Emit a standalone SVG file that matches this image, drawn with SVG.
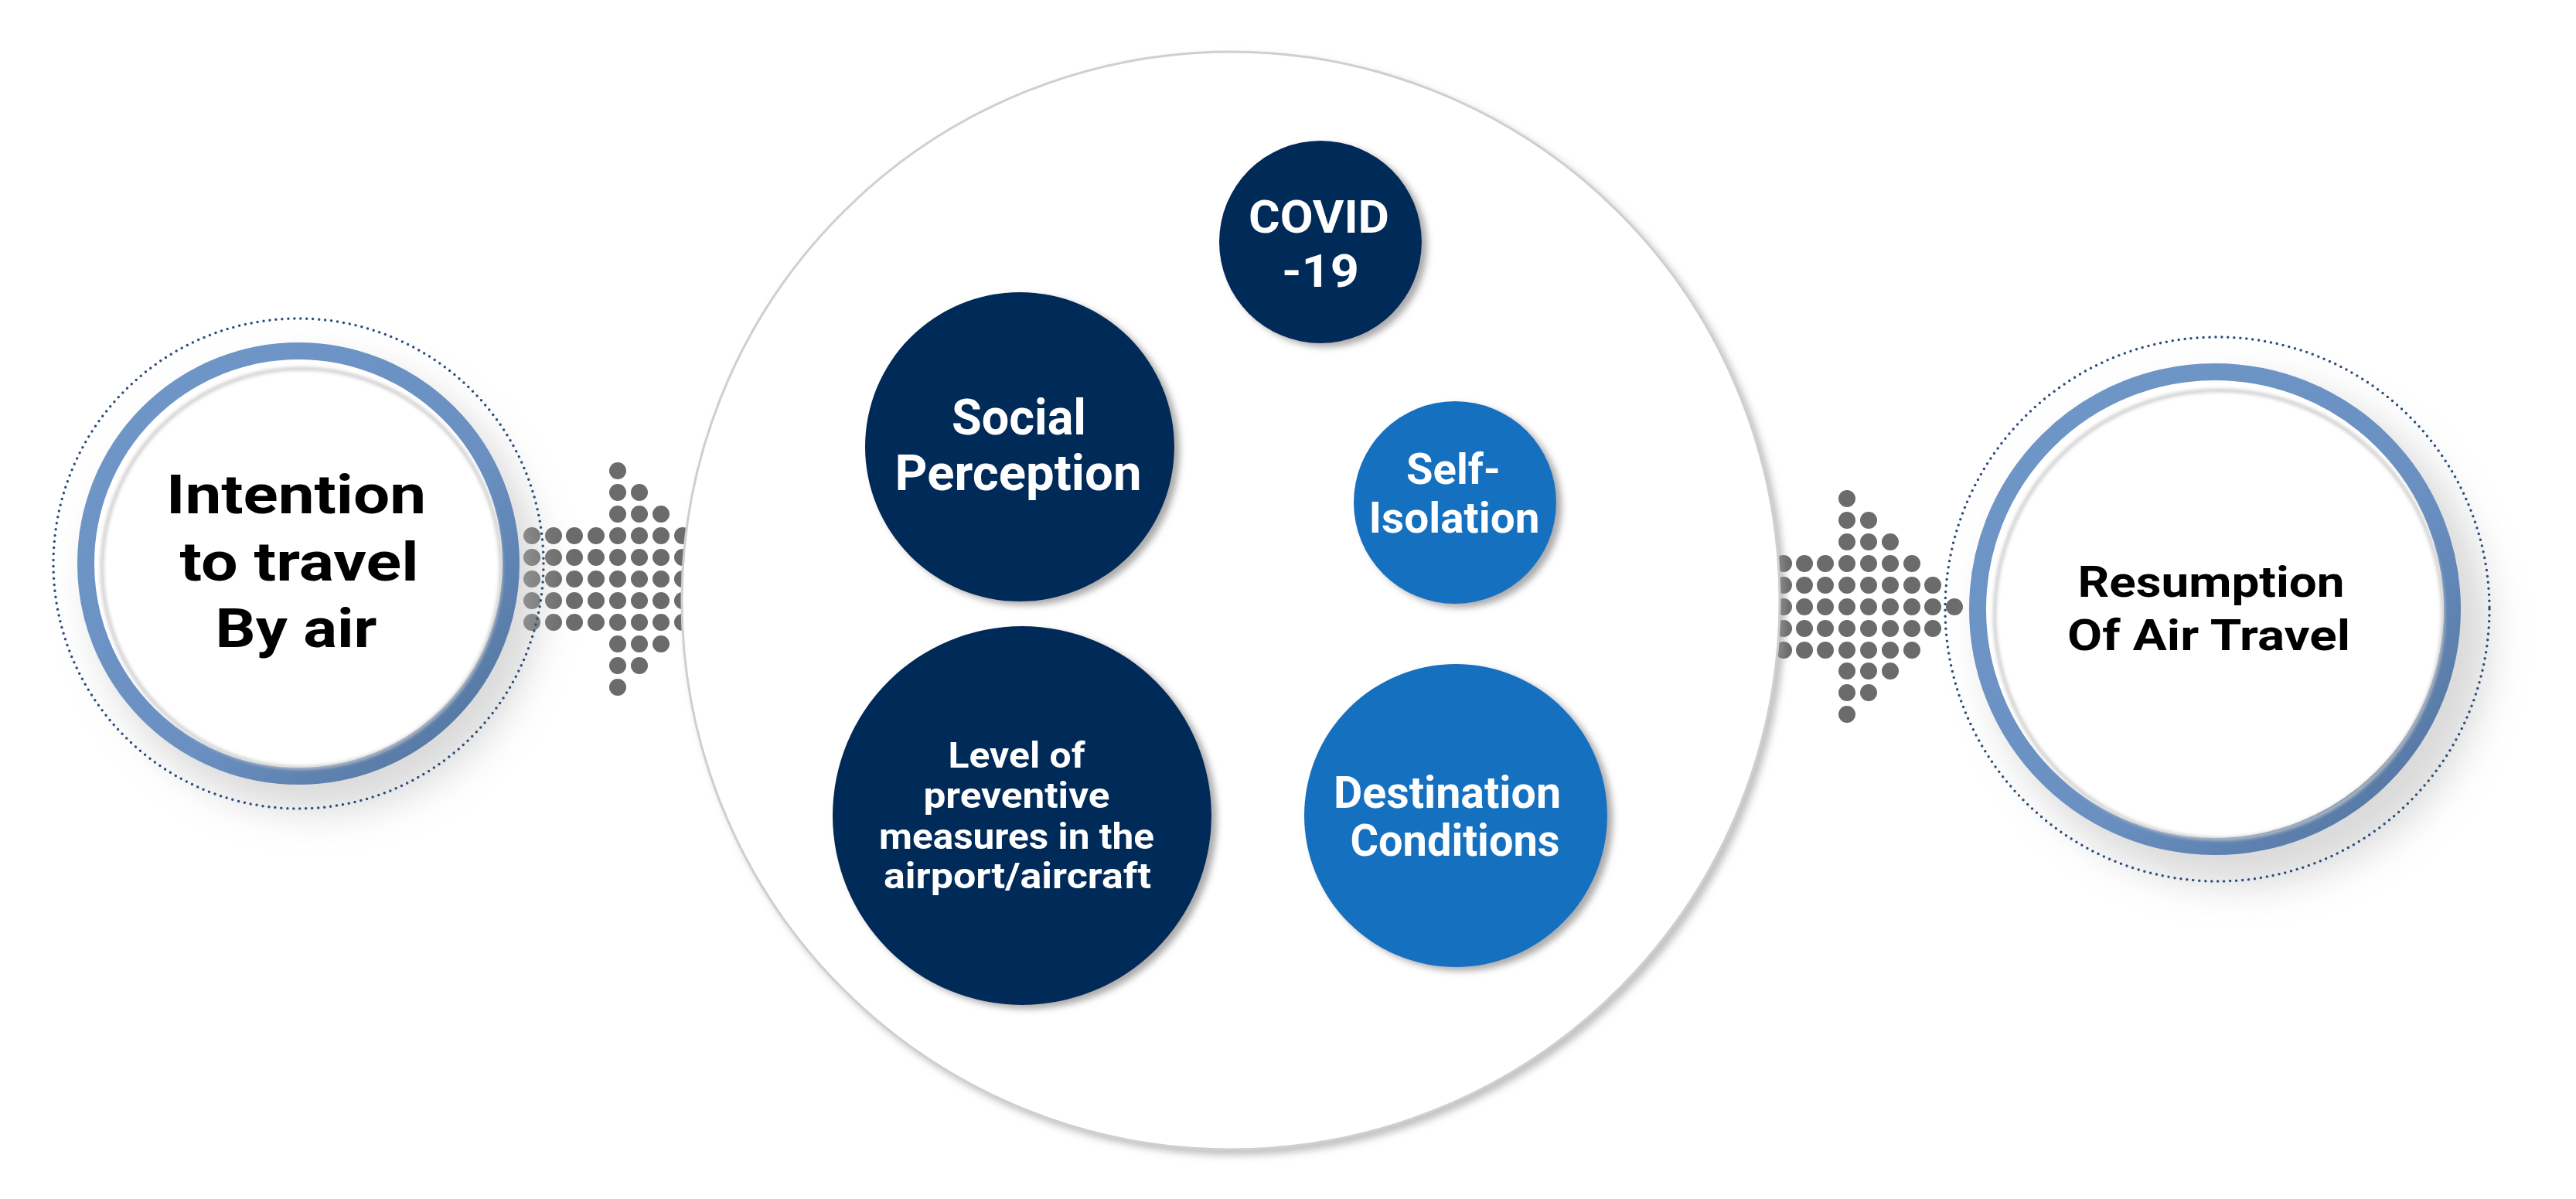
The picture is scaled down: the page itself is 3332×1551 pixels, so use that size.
<svg xmlns="http://www.w3.org/2000/svg" width="3332" height="1551" viewBox="0 0 3332 1551">
<defs>
<style>
.t{font-family:Roboto,"Liberation Sans",sans-serif;font-weight:700;text-anchor:middle}
.k{fill:#000}
.w{fill:#fff}
.dot{fill:#6b6b6b}
.dotted{fill:none;stroke:#2b4d7e;stroke-width:3.5;stroke-linecap:round;stroke-dasharray:0 8}
.ring{fill:#fff;stroke:url(#rg);stroke-width:22}
.navy{fill:#022b59}
.blue{fill:#1570c0}
</style>
<linearGradient id="rg" x1="0" y1="0" x2="1" y2="1">
<stop offset="0" stop-color="#6f97c8"/><stop offset="0.6" stop-color="#6a90c2"/><stop offset="1" stop-color="#4f6f98"/>
</linearGradient>
<filter id="sh" x="-20%" y="-20%" width="150%" height="150%"><feGaussianBlur stdDeviation="25"/></filter>
<filter id="sm" x="-10%" y="-10%" width="130%" height="130%"><feDropShadow dx="7" dy="5" stdDeviation="4" flood-color="#888" flood-opacity="0.7"/></filter>
<filter id="bg" x="-10%" y="-10%" width="130%" height="130%"><feDropShadow dx="6" dy="6" stdDeviation="5" flood-color="#999" flood-opacity="0.6"/></filter>
<filter id="bl"><feGaussianBlur stdDeviation="2"/></filter>
</defs>
<rect width="3332" height="1551" fill="#fff"/>
<g id="connectors">
<g id="arrow-left" class="dot">
<circle cx="688" cy="693" r="11"/><circle cx="688" cy="721" r="11"/><circle cx="688" cy="749" r="11"/><circle cx="688" cy="777" r="11"/><circle cx="688" cy="805" r="11"/>
<circle cx="716" cy="693" r="11"/><circle cx="716" cy="721" r="11"/><circle cx="716" cy="749" r="11"/><circle cx="716" cy="777" r="11"/><circle cx="716" cy="805" r="11"/>
<circle cx="743" cy="693" r="11"/><circle cx="743" cy="721" r="11"/><circle cx="743" cy="749" r="11"/><circle cx="743" cy="777" r="11"/><circle cx="743" cy="805" r="11"/>
<circle cx="771" cy="693" r="11"/><circle cx="771" cy="721" r="11"/><circle cx="771" cy="749" r="11"/><circle cx="771" cy="777" r="11"/><circle cx="771" cy="805" r="11"/>
<circle cx="799" cy="609" r="11"/><circle cx="799" cy="637" r="11"/><circle cx="799" cy="665" r="11"/><circle cx="799" cy="693" r="11"/><circle cx="799" cy="721" r="11"/><circle cx="799" cy="749" r="11"/><circle cx="799" cy="777" r="11"/><circle cx="799" cy="805" r="11"/><circle cx="799" cy="833" r="11"/><circle cx="799" cy="861" r="11"/><circle cx="799" cy="889" r="11"/>
<circle cx="827" cy="637" r="11"/><circle cx="827" cy="665" r="11"/><circle cx="827" cy="693" r="11"/><circle cx="827" cy="721" r="11"/><circle cx="827" cy="749" r="11"/><circle cx="827" cy="777" r="11"/><circle cx="827" cy="805" r="11"/><circle cx="827" cy="833" r="11"/><circle cx="827" cy="861" r="11"/>
<circle cx="855" cy="665" r="11"/><circle cx="855" cy="693" r="11"/><circle cx="855" cy="721" r="11"/><circle cx="855" cy="749" r="11"/><circle cx="855" cy="777" r="11"/><circle cx="855" cy="805" r="11"/><circle cx="855" cy="833" r="11"/>
<circle cx="883" cy="693" r="11"/><circle cx="883" cy="721" r="11"/><circle cx="883" cy="749" r="11"/><circle cx="883" cy="777" r="11"/><circle cx="883" cy="805" r="11"/>
<circle cx="911" cy="721" r="11"/><circle cx="911" cy="749" r="11"/><circle cx="911" cy="777" r="11"/>
</g>
<g id="arrow-right" class="dot">
<circle cx="2279" cy="729" r="11"/><circle cx="2279" cy="757" r="11"/><circle cx="2279" cy="785" r="11"/><circle cx="2279" cy="813" r="11"/><circle cx="2279" cy="841" r="11"/>
<circle cx="2307" cy="729" r="11"/><circle cx="2307" cy="757" r="11"/><circle cx="2307" cy="785" r="11"/><circle cx="2307" cy="813" r="11"/><circle cx="2307" cy="841" r="11"/>
<circle cx="2334" cy="729" r="11"/><circle cx="2334" cy="757" r="11"/><circle cx="2334" cy="785" r="11"/><circle cx="2334" cy="813" r="11"/><circle cx="2334" cy="841" r="11"/>
<circle cx="2361" cy="729" r="11"/><circle cx="2361" cy="757" r="11"/><circle cx="2361" cy="785" r="11"/><circle cx="2361" cy="813" r="11"/><circle cx="2361" cy="841" r="11"/>
<circle cx="2389" cy="645" r="11"/><circle cx="2389" cy="673" r="11"/><circle cx="2389" cy="701" r="11"/><circle cx="2389" cy="729" r="11"/><circle cx="2389" cy="757" r="11"/><circle cx="2389" cy="785" r="11"/><circle cx="2389" cy="813" r="11"/><circle cx="2389" cy="841" r="11"/><circle cx="2389" cy="868" r="11"/><circle cx="2389" cy="896" r="11"/><circle cx="2389" cy="924" r="11"/>
<circle cx="2417" cy="673" r="11"/><circle cx="2417" cy="701" r="11"/><circle cx="2417" cy="729" r="11"/><circle cx="2417" cy="757" r="11"/><circle cx="2417" cy="785" r="11"/><circle cx="2417" cy="813" r="11"/><circle cx="2417" cy="841" r="11"/><circle cx="2417" cy="868" r="11"/><circle cx="2417" cy="896" r="11"/>
<circle cx="2445" cy="701" r="11"/><circle cx="2445" cy="729" r="11"/><circle cx="2445" cy="757" r="11"/><circle cx="2445" cy="785" r="11"/><circle cx="2445" cy="813" r="11"/><circle cx="2445" cy="841" r="11"/><circle cx="2445" cy="868" r="11"/>
<circle cx="2473" cy="729" r="11"/><circle cx="2473" cy="757" r="11"/><circle cx="2473" cy="785" r="11"/><circle cx="2473" cy="813" r="11"/><circle cx="2473" cy="841" r="11"/>
<circle cx="2500" cy="757" r="11"/><circle cx="2500" cy="785" r="11"/><circle cx="2500" cy="813" r="11"/>
<circle cx="2528" cy="785" r="11"/>
</g>
</g>
<g id="node-intention">
<circle cx="410" cy="760" r="290" fill="#bbb" opacity="0.55" filter="url(#sh)"/>
<circle class="dotted" cx="386" cy="729" r="317"/>
<circle class="ring" cx="386" cy="729" r="275"/>
<circle cx="390" cy="735" r="258" fill="none" stroke="#c8c8c8" stroke-width="4" filter="url(#bl)"/>
<text class="t k" font-size="70" x="383" y="664" textLength="336" lengthAdjust="spacingAndGlyphs">Intention</text>
<text class="t k" font-size="70" x="387" y="751" textLength="309" lengthAdjust="spacingAndGlyphs">to travel</text>
<text class="t k" font-size="70" x="383" y="837" textLength="209" lengthAdjust="spacingAndGlyphs">By air</text>
</g>
<g id="node-resumption">
<circle cx="2895" cy="820" r="325" fill="#bbb" opacity="0.55" filter="url(#sh)"/>
<circle class="dotted" cx="2868" cy="788" r="352"/>
<circle class="ring" cx="2865" cy="788" r="307"/>
<circle cx="2870" cy="795" r="290" fill="none" stroke="#c8c8c8" stroke-width="4" filter="url(#bl)"/>
<text class="t k" font-size="56" x="2860" y="772" textLength="345" lengthAdjust="spacingAndGlyphs">Resumption</text>
<text class="t k" font-size="56" x="2857" y="841" textLength="366" lengthAdjust="spacingAndGlyphs">Of Air Travel</text>
</g>
<g id="node-factors">
<circle cx="1592" cy="777" r="710" fill="#fff" stroke="#cfcfcf" stroke-width="3" filter="url(#bg)"/>
</g>
<g id="node-covid" filter="url(#sm)">
<circle class="navy" cx="1708" cy="313" r="131"/>
<text class="t w" font-size="60" x="1706" y="301" textLength="182" lengthAdjust="spacingAndGlyphs">COVID</text>
<text class="t w" font-size="60" x="1708" y="371" textLength="100" lengthAdjust="spacingAndGlyphs">-19</text>
</g>
<g id="node-social" filter="url(#sm)">
<circle class="navy" cx="1319" cy="578" r="200"/>
<text class="t w" font-size="64" x="1318" y="562" textLength="174" lengthAdjust="spacingAndGlyphs">Social</text>
<text class="t w" font-size="64" x="1317" y="634" textLength="319" lengthAdjust="spacingAndGlyphs">Perception</text>
</g>
<g id="node-self" filter="url(#sm)">
<circle class="blue" cx="1882" cy="650" r="131"/>
<text class="t w" font-size="56" x="1880" y="626" textLength="122" lengthAdjust="spacingAndGlyphs">Self-</text>
<text class="t w" font-size="56" x="1881" y="689" textLength="221" lengthAdjust="spacingAndGlyphs">Isolation</text>
</g>
<g id="node-level" filter="url(#sm)">
<circle class="navy" cx="1322" cy="1055" r="245"/>
<text class="t w" font-size="47" x="1315" y="993" textLength="177" lengthAdjust="spacingAndGlyphs">Level of</text>
<text class="t w" font-size="47" x="1315" y="1045" textLength="241" lengthAdjust="spacingAndGlyphs">preventive</text>
<text class="t w" font-size="47" x="1315" y="1098" textLength="356" lengthAdjust="spacingAndGlyphs">measures in the</text>
<text class="t w" font-size="47" x="1316" y="1149" textLength="346" lengthAdjust="spacingAndGlyphs">airport/aircraft</text>
</g>
<g id="node-destination" filter="url(#sm)">
<circle class="blue" cx="1883" cy="1055" r="196"/>
<text class="t w" font-size="58" x="1872" y="1045" textLength="294" lengthAdjust="spacingAndGlyphs">Destination</text>
<text class="t w" font-size="58" x="1882" y="1107" textLength="271" lengthAdjust="spacingAndGlyphs">Conditions</text>
</g>
</svg>
